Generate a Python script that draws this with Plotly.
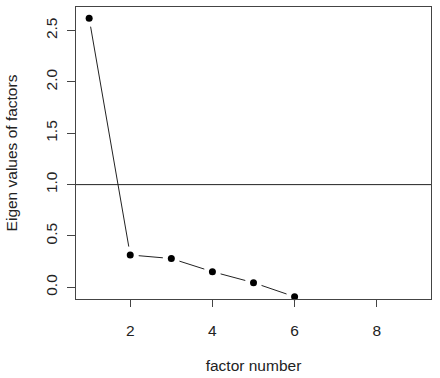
import math
import plotly.graph_objects as go

factor_number = [1, 2, 3, 4, 5, 6]
eigen_values = [2.62, 0.315, 0.28, 0.152, 0.045, -0.092]
kaiser_line = 1.0
x_tick_vals = [2, 4, 6, 8]
y_tick_vals = [0.0, 0.5, 1.0, 1.5, 2.0, 2.5]

W, H = 440, 378
ML, MR, MT, MB = 76, 9, 7, 79
XR = [0.68, 9.32]
YR = [-0.114, 2.73]
sx = (W - ML - MR) / (XR[1] - XR[0])
sy = (H - MT - MB) / (YR[1] - YR[0])
gap = 8.5  # px gap around points (R type="b")

seg_x, seg_y = [], []
for i in range(len(factor_number) - 1):
    x1, y1 = factor_number[i], eigen_values[i]
    x2, y2 = factor_number[i + 1], eigen_values[i + 1]
    dx, dy = (x2 - x1) * sx, (y2 - y1) * sy
    L = math.hypot(dx, dy)
    if L <= 2 * gap:
        continue
    f = gap / L
    seg_x += [x1 + (x2 - x1) * f, x2 - (x2 - x1) * f, None]
    seg_y += [y1 + (y2 - y1) * f, y2 - (y2 - y1) * f, None]

font = dict(family="Liberation Sans, Arial, sans-serif", size=15.5, color="#222")

fig = go.Figure()
fig.add_trace(go.Scatter(x=seg_x, y=seg_y, mode="lines",
                         line=dict(color="#222", width=1), hoverinfo="skip"))
fig.add_trace(go.Scatter(x=factor_number, y=eigen_values, mode="markers",
                         marker=dict(color="black", size=7), cliponaxis=False))
fig.add_hline(y=kaiser_line, line=dict(color="#222", width=1))

fig.update_layout(
    width=W, height=H, showlegend=False,
    margin=dict(l=ML, r=MR, t=MT, b=MB),
    paper_bgcolor="white", plot_bgcolor="white", font=font,
)
fig.update_xaxes(range=XR, tickvals=x_tick_vals, ticks="outside", ticklen=7,
                 tickcolor="#444", showline=True, linecolor="#444", mirror=True,
                 showgrid=False, zeroline=False, ticklabelstandoff=10,
                 title=dict(text="factor number", standoff=22, font=font))
fig.update_yaxes(range=YR, tickvals=y_tick_vals, tickformat=".1f", tickangle=-90,
                 ticks="outside", ticklen=8, tickcolor="#444", showline=True,
                 linecolor="#444", mirror=True, showgrid=False, zeroline=False,
                 ticklabelstandoff=4,
                 title=dict(text="Eigen values of factors", standoff=21, font=font))

fig.write_html("out.html", config={"displayModeBar": False},
               post_script="document.body.style.margin='0';")
